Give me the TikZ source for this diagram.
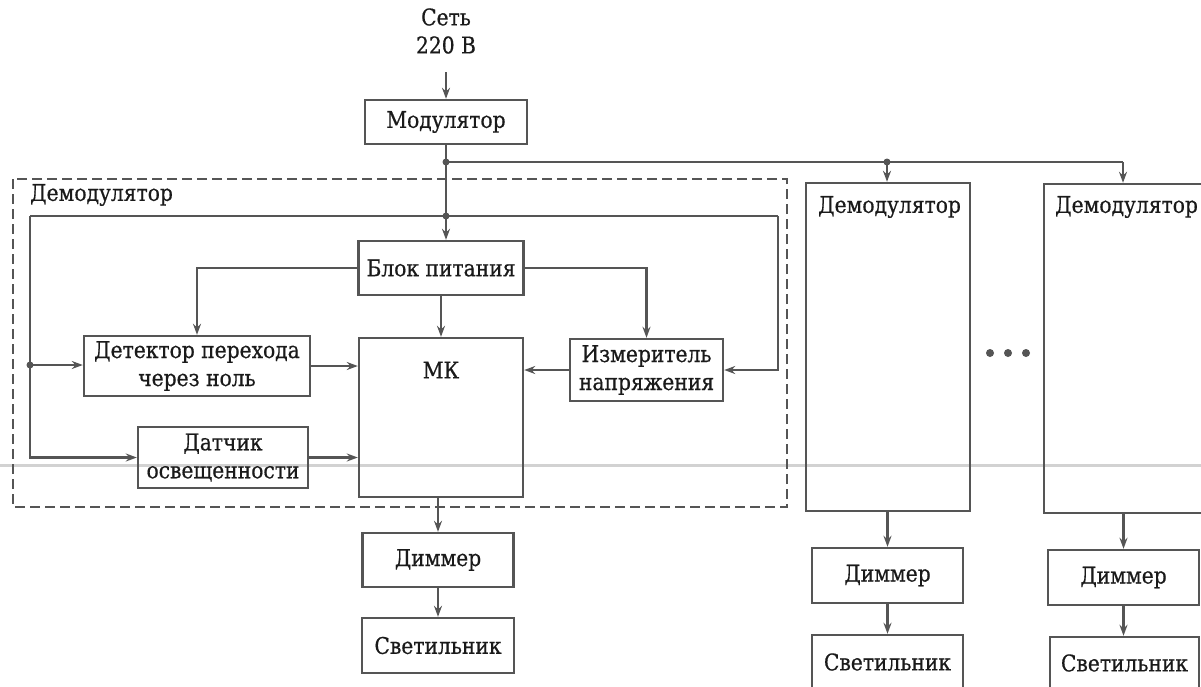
\documentclass[tikz,border=0pt]{standalone}
\usepackage{fontspec}
\setmainfont{DejaVu Serif}[FakeStretch=0.88,FakeBold=0.6]
\usetikzlibrary{arrows.meta,calc}
\definecolor{ln}{HTML}{555555}
\definecolor{tx}{HTML}{1A1A1A}
\begin{document}
\begin{tikzpicture}[x=1pt,y=-1pt,
  box/.style={draw=ln,line width=2.4pt,inner sep=0pt,align=center,text=tx,font=\fontsize{23}{28}\selectfont},
  lbl/.style={inner sep=0pt,text=tx,font=\fontsize{23}{28}\selectfont,align=center},
  arr/.style={draw=ln,line width=2.4pt,-{Stealth[length=11pt,width=8pt]}},
  wire/.style={draw=ln,line width=2.4pt},
  jdot/.style={circle,fill=ln,inner sep=0pt,minimum size=7pt}]
\useasboundingbox (0,0) rectangle (1201,686);
\clip (0,0) rectangle (1201,686);
% scan artifact line
\draw[gray!35,line width=3pt] (0,465) -- (1201,465);
% dashed frame
\draw[ln,line width=2pt,dash pattern=on 10pt off 5pt] (13,179) rectangle (787,507);
\node[lbl,anchor=west] (dlbl) at (30,195) {Демодулятор};
% nodes
\node[lbl] (set) at (446,31) {Сеть\\220 В};
\coordinate (src) at (446,72);
\node[box,minimum width=162pt,minimum height=44pt] (mod) at (446,122) {Модулятор};
\node[box,minimum width=165pt,minimum height=54pt] (bp) at (441,268) {Блок питания};
\node[box,minimum width=164pt,minimum height=159pt] (mk) at (441,417.5) {};
\node[lbl] (mklbl) at (441,370) {МК};
\node[box,minimum width=153pt,minimum height=62pt] (izm) at (646.5,370) {Измеритель\\напряжения};
\node[box,minimum width=226pt,minimum height=60pt] (det) at (197,366) {Детектор перехода\\через ноль};
\node[box,minimum width=170pt,minimum height=61pt] (dat) at (223,457.5) {Датчик\\освещенности};
\node[box,minimum width=151pt,minimum height=54pt] (dim1) at (438,560) {Диммер};
\node[box,minimum width=152pt,minimum height=55pt] (sv1) at (438,645.5) {Светильник};
\node[box,minimum width=164pt,minimum height=328pt] (dem2) at (888,347) {};
\node[lbl,anchor=west] (dem2lbl) at (818,207) {Демодулятор};
\node[box,minimum width=151pt,minimum height=55pt] (dim2) at (887.5,575.5) {Диммер};
\node[box,minimum width=151pt,minimum height=70pt] (sv2) at (887.5,670) {};
\node[lbl] (sv2lbl) at (887.5,662) {Светильник};
\node[box,minimum width=175pt,minimum height=329pt] (dem3) at (1131.5,348.5) {};
\node[lbl,anchor=west] (dem3lbl) at (1055,207) {Демодулятор};
\node[box,minimum width=151pt,minimum height=55pt] (dim3) at (1123.5,577.5) {Диммер};
\node[box,minimum width=149pt,minimum height=70pt] (sv3) at (1124.5,672) {};
\node[lbl] (sv3lbl) at (1124.5,663) {Светильник};
% ellipsis
\node[jdot,minimum size=8pt] (e1) at (990,353) {};
\node[jdot,minimum size=8pt] (e2) at (1008,353) {};
\node[jdot,minimum size=8pt] (e3) at (1026,353) {};
% junctions
\coordinate (j1) at (446,162);
\coordinate (j2) at (446,216);
\coordinate (j3) at (887,162);
\coordinate (j4) at (1123,162);
\coordinate (lt) at (30,216);
\coordinate (rt) at (778,216);
\coordinate (j6) at (30,365);
% connectors
\draw[arr] (src) -- (src |- mod.north);
\draw[wire] (mod.south) -- (j1);
\draw[arr] (j1) -- (j2) -- (j2 |- bp.north);
\draw[wire] (j1) -- (j4);
\draw[arr] (j3) -- (j3 |- dem2.north);
\draw[arr] (j4) -- (j4 |- dem3.north);
\draw[wire] (lt) -- (rt);
\draw[arr] (rt) |- (izm.east);
\draw[arr] (lt) |- (dat.west);
\draw[arr] (j6) -- (j6 -| det.west);
\draw[arr] (bp.west) -| (det.north);
\draw[arr] (bp.east) -| (izm.north);
\draw[arr] (bp.south) -- (mk.north);
\draw[arr] (izm.west) -- (izm.west -| mk.east);
\draw[arr] (det.east) -- (det.east -| mk.west);
\draw[arr] (dat.east) -- (dat.east -| mk.west);
\draw[arr] (dim1.north |- mk.south) -- (dim1.north);
\draw[arr] (dim1.south) -- (sv1.north);
\draw[arr] (dim2.north |- dem2.south) -- (dim2.north);
\draw[arr] (dim2.south) -- (sv2.north);
\draw[arr] (dim3.north |- dem3.south) -- (dim3.north);
\draw[arr] (dim3.south) -- (dim3.south |- sv3.north);
\node[jdot] (d1) at (j1) {};
\node[jdot] (d2) at (j2) {};
\node[jdot] (d3) at (j3) {};
\node[jdot] (d6) at (j6) {};
\end{tikzpicture}
\end{document}
